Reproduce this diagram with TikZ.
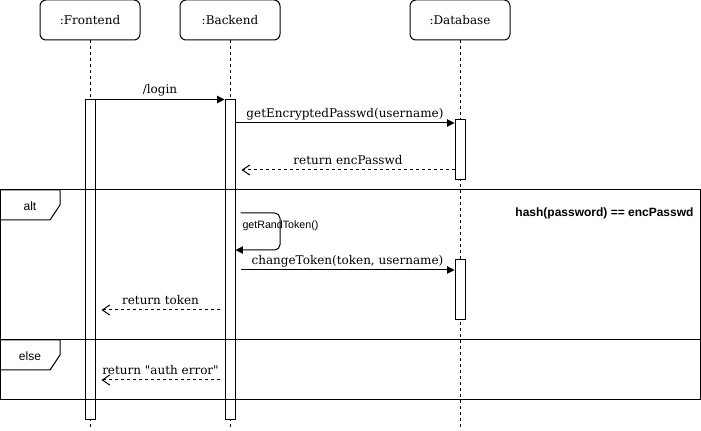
\documentclass[tikz,border=0pt]{standalone}
\usepackage{fontspec}
\setmainfont{DejaVu Serif}[Ligatures=TeXOff]
\newfontfamily\labelsans{Liberation Sans}
\usetikzlibrary{arrows.meta}
\begin{document}
\begin{tikzpicture}[x=0.75pt,y=-0.75pt,line width=0.75pt,
  head/.style={draw,rounded corners=4.5pt,minimum width=75pt,minimum height=30pt,
    inner sep=0pt,font=\fontsize{9}{11}\selectfont},
  life/.style={dash pattern=on 2.25pt off 2.25pt},
  act/.style={draw,fill=white,minimum width=7.5pt,inner sep=0pt},
  msg/.style={-{Triangle[length=5.5pt,width=5.5pt]}},
  ret/.style={dash pattern=on 2.25pt off 2.25pt,
    -{Straight Barb[length=5.5pt,width=7.5pt]}},
  lbl/.style={midway,anchor=base,yshift=3.75pt,inner sep=0pt,
    font=\fontsize{9}{11}\selectfont},
  tag/.style={anchor=base,inner sep=0pt,font=\labelsans\fontsize{9}{11}\selectfont},
  guard/.style={anchor=base east,inner sep=0pt,
    font=\labelsans\bfseries\fontsize{9}{11}\selectfont},
  small/.style={anchor=base west,inner sep=0pt,font=\labelsans\fontsize{8}{10}\selectfont}]
\useasboundingbox (0,0) rectangle (701,431);

% participants
\node[head] (fh) at (90,20) {:Frontend};
\node[head] (bh) at (230,20) {:Backend};
\node[head] (dh) at (460,20) {:Database};

% lifelines
\coordinate (fe) at (90,428);
\coordinate (be) at (230,428);
\coordinate (de) at (460,428);
\draw[life] (fh) -- (fe);
\draw[life] (bh) -- (be);
\draw[life] (dh) -- (de);

% activation bars
\node[act,minimum height=240pt] (fa) at (90,260) {};
\node[act,minimum height=240pt] (ba) at (230,260) {};
\node[act,minimum height=45pt] (da1) at (460,150) {};
\node[act,minimum height=45pt] (da2) at (460,290) {};

% message heights
\coordinate (y2) at (0,123);
\coordinate (y3) at (0,170);
\coordinate (sct) at (280,213);
\coordinate (scb) at (280,250);
\coordinate (y6) at (0,270);
\coordinate (y7) at (0,310);
\coordinate (y8) at (0,380);

% messages
\draw[msg] (fa.north east) -- node[lbl,yshift=1pt] {/login} (ba.north west);
\draw[msg] (ba.east |- y2) -- node[lbl] {getEncryptedPasswd(username)} (da1.west |- y2);
\draw[ret] (da1.west |- y3) -- node[lbl] {return encPasswd} ([xshift=4.5pt]ba.east |- y3);
\draw[msg,rounded corners=4pt] ([xshift=3.75pt]ba.east |- sct) -- (sct) -- (scb) -- (ba.east |- scb);
\node[small] (rt) at (242,229) {getRandToken()};
\draw[msg] ([xshift=3.75pt]ba.east |- y6) -- node[lbl] {changeToken(token, username)} (da2.west |- y6);
\draw[ret] ([xshift=-3.75pt]ba.west |- y7) -- node[lbl] {return token} ([xshift=4.5pt]fa.east |- y7);
\draw[ret] ([xshift=-3.75pt]ba.west |- y8) -- node[lbl] {return "auth error"} ([xshift=4.5pt]fa.east |- y8);

% combined fragment
\draw (0,190) rectangle (700,400);
\draw (0,340) -- (700,340);
\draw (0,190) -- (60,190) -- (60,205) -- (50,220) -- (0,220);
\draw (0,340) -- (60,340) -- (60,355) -- (50,370) -- (0,370);
\node[tag] (alt) at (30,211) {alt};
\node[tag] (els) at (30,361) {else};
\node[guard] (g) at (694,217) {hash(password) == encPasswd};
\end{tikzpicture}
\end{document}
